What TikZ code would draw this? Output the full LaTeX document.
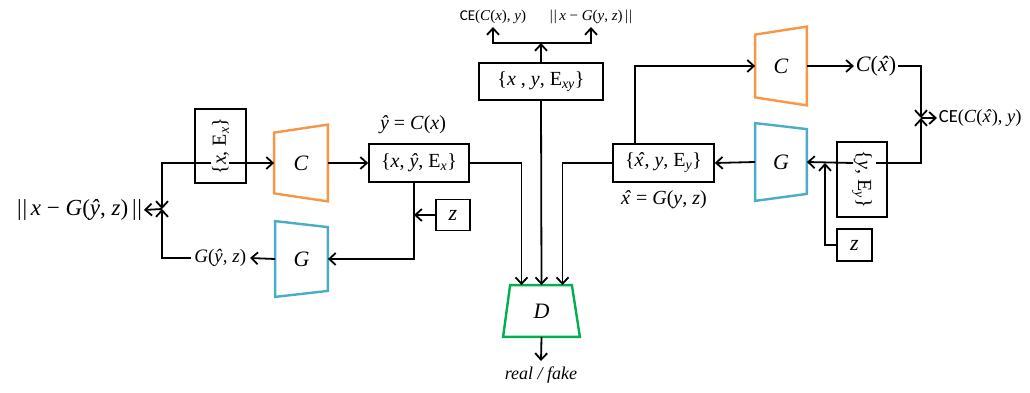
\documentclass[tikz,border=0pt]{standalone}
\usepackage{fontspec}
\setmainfont{Liberation Serif}
\newfontfamily\cesans{Carlito}
\usetikzlibrary{arrows.meta,calc}
\definecolor{netorange}{HTML}{F79646}
\definecolor{netblue}{HTML}{4BACC6}
\definecolor{netgreen}{HTML}{00B050}
\newcommand{\iv}[1]{\textit{#1}}
% italic x with a circumflex set over it
\newcommand{\xhat}{\ooalign{\textit{x}\cr\hfil\kern0.12em\textit{\char"02C6}\hfil\cr}}
\newcommand{\yhat}{\textit{^^^^0177}}
\newcommand{\dbar}{|\kern0.8pt|}
\begin{document}
\begin{tikzpicture}[x=1pt,y=-1pt,line width=1.8pt,
  >={Straight Barb[length=6.5pt,width=12pt]},
  box/.style={draw,line width=1.7pt,inner sep=0pt},
  mathtxt/.style={font=\fontsize{20}{22}\selectfont,inner sep=1pt},
  toptxt/.style={font=\fontsize{15}{17}\selectfont,inner sep=2pt},
  net/.style={inner sep=0pt,font=\fontsize{22}{24}\selectfont\itshape},
  netedge/.style={line width=2.4pt,line join=miter}]

\useasboundingbox (0,0) rectangle (1030,393);

% ---- networks (trapezoids) ----
\node[net,minimum width=52pt,minimum height=75pt] (C1) at (301,163) {C};
\draw[netedge,netorange] ([yshift=-8pt]C1.north west) -- (C1.north east) -- (C1.south east) -- ([yshift=8pt]C1.south west) -- cycle;
\node[net,minimum width=51pt,minimum height=74pt] (G1) at (301.5,259) {G};
\draw[netedge,netblue] (G1.north west) -- ([yshift=-6pt]G1.north east) -- ([yshift=6pt]G1.south east) -- (G1.south west) -- cycle;
\node[net,minimum width=50pt,minimum height=77pt] (C2) at (781,66) {C};
\draw[netedge,netorange] ([yshift=-8pt]C2.north west) -- (C2.north east) -- (C2.south east) -- ([yshift=8pt]C2.south west) -- cycle;
\node[net,minimum width=50pt,minimum height=76pt] (G2) at (781,162) {G};
\draw[netedge,netblue] (G2.north west) -- ([yshift=-6pt]G2.north east) -- ([yshift=7pt]G2.south east) -- (G2.south west) -- cycle;
\node[net,minimum width=75pt,minimum height=50pt] (D) at (541.5,311) {D};
\draw[netedge,netgreen] ([xshift=7pt]D.north west) -- ([xshift=-8pt]D.north east) -- (D.south east) -- (D.south west) -- cycle;

% ---- data boxes ----
\node[box,mathtxt,minimum width=100pt,minimum height=38pt] (A) at (419,163) {\{\iv{x}, \yhat, E\textsubscript{\iv{x}}\}};
\node[box,mathtxt,minimum width=124pt,minimum height=37pt] (M) at (541,81.5) {\{\iv{x} , \iv{y}, E\textsubscript{\iv{xy}}\}};
\node[box,mathtxt,minimum width=101pt,minimum height=38pt] (B) at (663.5,163) {\{\xhat, \iv{y}, E\textsubscript{\iv{y}}\}};
\node[box,mathtxt,rotate=90,minimum width=74pt,minimum height=51pt] (XE) at (220.5,146) {\{\iv{x}, E\textsubscript{\iv{x}}\}};
\node[box,mathtxt,rotate=-90,minimum width=75pt,minimum height=50pt] (YE) at (862,179.5) {\{\iv{y}, E\textsubscript{\iv{y}}\}};
\node[box,font=\fontsize{22}{24}\selectfont\itshape,minimum width=34pt,minimum height=31pt] (z1) at (453,215) {z};
\node[box,font=\fontsize{22}{24}\selectfont\itshape,minimum width=35pt,minimum height=32pt] (z2) at (854.5,245) {z};

% ---- labels ----
\node[font=\fontsize{23}{25}\selectfont,inner sep=1pt,anchor=east] (lossL) at (144,210) {\dbar\,\iv{x} − \iv{G}(\yhat, \iv{z})\,\dbar};
\node[font=\fontsize{19}{21}\selectfont,inner sep=3pt,anchor=east] (lblG1) at (250,258) {\iv{G}(\yhat, \iv{z})};
\node[mathtxt] (labA) at (413,125) {\yhat{} = \iv{C}(\iv{x})};
\node[mathtxt] (labB) at (664,200) {\xhat{} = \iv{G}(\iv{y}, \iv{z})};
\node[toptxt,anchor=south] (topL) at (493,27) {{\cesans CE}(\iv{C}(\iv{x}), \iv{y})};
\node[toptxt,anchor=south] (topR) at (591,27) {\dbar\,\iv{x} − \iv{G}(\iv{y}, \iv{z})\,\dbar};
\node[font=\fontsize{22}{24}\selectfont,inner sep=1pt] (lblC2) at (876,66) {\iv{C}(\xhat)};
\node[font=\fontsize{18.5}{20}\selectfont,inner sep=1pt,anchor=west] (ceR) at (937,118) {{\cesans CE}(\iv{C}(\xhat), \iv{y})};
\node[font=\fontsize{18}{20}\selectfont\itshape,inner xsep=1pt,inner ysep=5pt,anchor=north] (rf) at (541,361) {real / fake};

% ---- junctions ----
\coordinate (jL) at (162,209);
\coordinate (xL1) at (211,163);
\coordinate (xL2) at (229,163);
\coordinate (jM) at (541,43);
\coordinate (jR) at (921,118);
\coordinate (yR1) at (876,163);
\coordinate (yR2) at (853,163);
\coordinate (jZ) at (825,163);
\coordinate (aDown) at ([xshift=-5pt]A.south);
\coordinate (zL) at (aDown |- z1.west);

% ---- connectors: left branch ----
\draw[->] (xL1) -| (jL);
\draw[->] (xL2) -- (C1.west);
\draw[->] (lblG1.west) -| (jL);
\draw[->] (jL) -- (lossL.east);
\draw[->] (C1.east) -- (A.west);
\draw[->] (aDown) |- (G1.east);
\draw[->] (z1.west) -- (zL);
\draw[->] (G1.west) -- (lblG1.east);

% ---- connectors: discriminator ----
\draw[->] (A.east) -| ([xshift=-20pt]D.north);
\draw[->] (M.south) -- (D.north);
\draw[->] (B.west) -| ([xshift=21pt]D.north);
\draw[->] (D.south) -- (rf.north);

% ---- connectors: top ----
\draw[->] (M.north) -- (jM);
\draw[->] (jM) -| (topL.south);
\draw[->] (jM) -| (topR.south);

% ---- connectors: right branch ----
\draw[->] ([xshift=-28.5pt]B.north) |- (C2.west);
\draw[->] (G2.west) -- (B.east);
\draw[->] (C2.east) -- (lblC2.west);
\draw[->] (lblC2.east) -| (jR);
\draw[->] (yR1) -| (jR);
\draw[->] (yR2) -- (G2.east);
\draw[->] (z2.west) -| (jZ);
\draw[->] (jR) -- (ceR.west);
\end{tikzpicture}
\end{document}
